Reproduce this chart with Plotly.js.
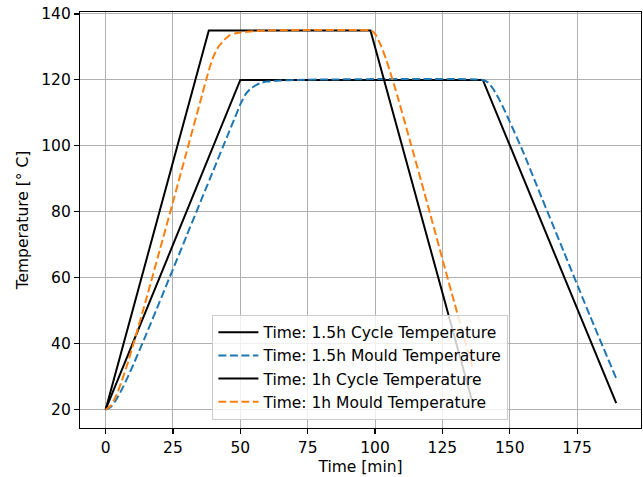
<!DOCTYPE html>
<html>
<head>
<meta charset="utf-8">
<script src="https://cdn.plot.ly/plotly-3.0.1.min.js"></script>
<style>html,body{margin:0;padding:0;background:#fff;}#chart{width:643px;height:477px;}</style>
</head>
<body>
<div id="chart"></div>
<script>
// 1.5 h cycle
const cycle15_x = [0, 50, 140, 189.5];
const cycle15_y = [20, 120, 120, 22];
const mould15_x = [0, 2, 4, 6, 8, 10, 15, 20, 30, 40, 45, 48, 50, 52, 54, 56, 58, 60, 65, 70, 140, 142, 144, 146, 148, 150, 155, 160, 170, 180, 189.5];
const mould15_y = [20, 20.9, 23.1, 26.1, 29.5, 33.1, 42.7, 52.6, 72.6, 92.6, 102.6, 108.6, 112.6, 115.7, 117.5, 118.5, 119.2, 119.5, 119.8, 120, 120, 119.2, 117.1, 114.2, 110.9, 107.3, 98.1, 88, 68, 48, 29.5];
// 1 h cycle
const cycle1_x = [0, 38.3, 98.3, 136.1];
const cycle1_y = [20, 135, 135, 22.4];
const mould1_x = [0, 2, 4, 6, 8, 10, 15, 20, 25, 30, 35, 38.3, 40, 42, 44, 46, 48, 50, 55, 60, 98.3, 99.3, 100.3, 102.3, 104.3, 106.3, 108.3, 113.3, 118.3, 128.3, 136.1];
const mould1_y = [20, 21.3, 24.4, 28.7, 33.6, 39, 53.3, 68.1, 83, 98, 113, 122.9, 127.1, 130.2, 132.1, 133.5, 134.1, 134.4, 134.8, 135, 135, 134.6, 133.6, 130.2, 125.8, 120.6, 115.1, 100.6, 85.8, 55.8, 33];

const names = ["Time: 1.5h Cycle Temperature", "Time: 1.5h Mould Temperature", "Time: 1h Cycle Temperature", "Time: 1h Mould Temperature"];
const xTicks = [0, 25, 50, 75, 100, 125, 150, 175];
const yTicks = [20, 40, 60, 80, 100, 120, 140];

const FS = 15.5;
const dash = "8px,3.5px";
const traces = [
  {x: cycle15_x, y: cycle15_y, name: names[0], legendgroup: "a", mode: "lines", line: {color: "#000000", width: 2}},
  {x: mould15_x, y: mould15_y, name: names[1], legendgroup: "b", mode: "lines", line: {color: "#1f77b4", width: 2, dash: dash, shape: "spline", smoothing: 0.5}},
  {x: cycle1_x, y: cycle1_y, name: names[2], legendgroup: "c", mode: "lines", line: {color: "#000000", width: 2}},
  {x: mould1_x, y: mould1_y, name: names[3], legendgroup: "d", mode: "lines", line: {color: "#ff7f0e", width: 2, dash: dash, shape: "spline", smoothing: 0.5}}
];

const axisCommon = {
  showgrid: true, gridcolor: "#b0b0b0", gridwidth: 1,
  zeroline: false, showline: true, linecolor: "#000000", linewidth: 1.1, mirror: true,
  ticks: "outside", ticklen: 5, tickwidth: 1.1, tickcolor: "#000000",
  tickfont: {family: "DejaVu Sans", size: FS, color: "#000000"}
};

const layout = {
  width: 643, height: 477,
  margin: {l: 80, r: 2, t: 12, b: 49, pad: 0},
  paper_bgcolor: "#ffffff", plot_bgcolor: "#ffffff",
  font: {family: "DejaVu Sans", size: FS, color: "#000000"},
  showlegend: true,
  xaxis: Object.assign({}, axisCommon, {
    range: [-9.5, 198.7], tickvals: xTicks, ticktext: xTicks.map(String),
    title: {text: "Time [min]", font: {family: "DejaVu Sans", size: FS}, standoff: 5}
  }),
  yaxis: Object.assign({}, axisCommon, {
    range: [14.45, 140.6], tickvals: yTicks, ticktext: yTicks.map(String),
    title: {text: "Temperature [° C]", font: {family: "DejaVu Sans", size: FS}, standoff: 8}
  }),
  legend: {
    x: 0.236, y: 0.02, xanchor: "left", yanchor: "bottom",
    bgcolor: "rgba(255,255,255,0.8)", bordercolor: "#cccccc", borderwidth: 1,
    font: {family: "DejaVu Sans", size: FS, color: "#000000"},
    traceorder: "grouped", tracegroupgap: 0, itemwidth: 40
  }
};

Plotly.newPlot("chart", traces, layout, {displayModeBar: false, staticPlot: true});
</script>
</body>
</html>
